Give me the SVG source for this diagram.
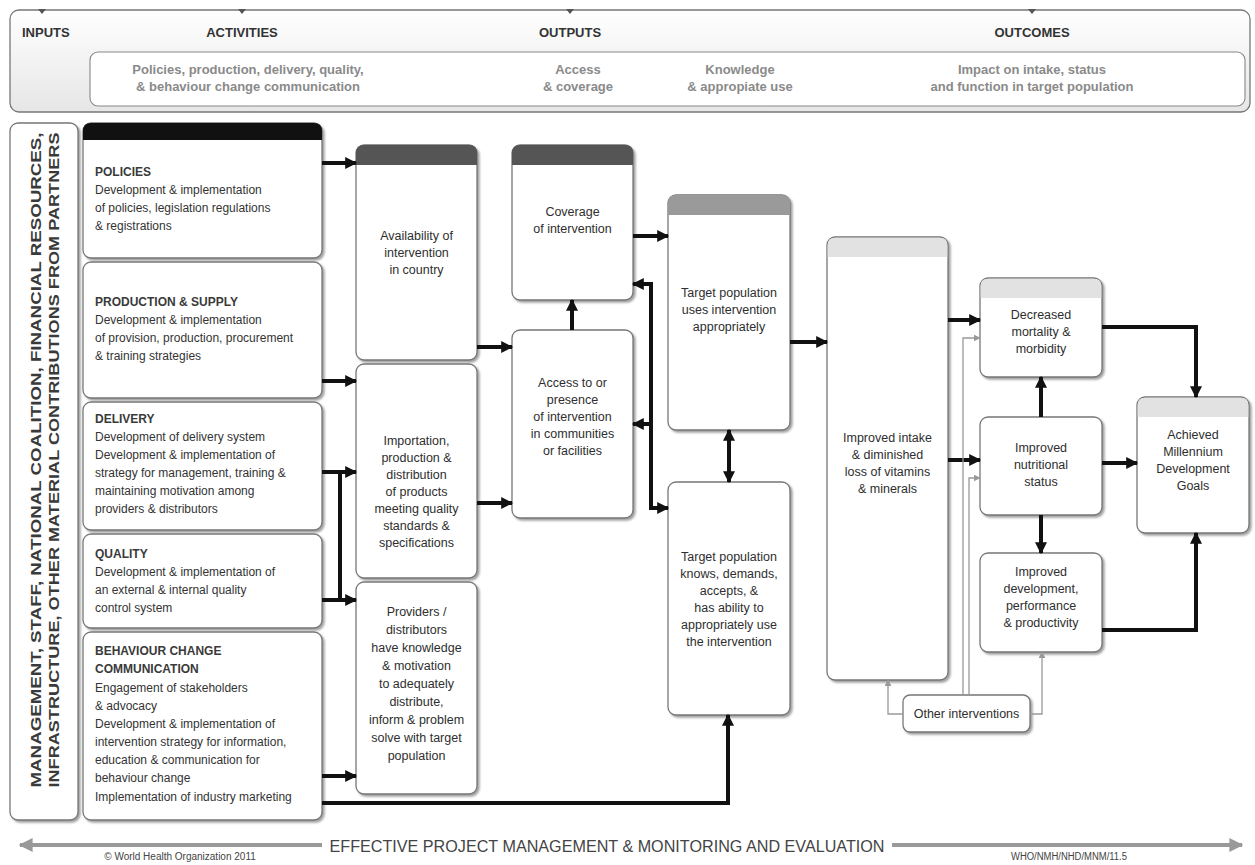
<svg xmlns="http://www.w3.org/2000/svg" width="1255" height="865" viewBox="0 0 1255 865">
<defs>
  <linearGradient id="hdrGrad" x1="0" y1="0" x2="0" y2="1">
    <stop offset="0" stop-color="#ffffff"/>
    <stop offset="1" stop-color="#e6e6e6"/>
  </linearGradient>
  <filter id="sh" x="-10%" y="-10%" width="130%" height="130%">
    <feDropShadow dx="2" dy="2" stdDeviation="1.2" flood-color="#777" flood-opacity="0.7"/>
  </filter>
  <marker id="ah" viewBox="0 0 10 10" refX="9" refY="5" markerWidth="13" markerHeight="12" markerUnits="userSpaceOnUse" orient="auto-start-reverse">
    <path d="M0,0 L10,5 L0,10 z" fill="#111"/>
  </marker>
  <marker id="ag" viewBox="0 0 10 10" refX="9" refY="5" markerWidth="7" markerHeight="7" markerUnits="userSpaceOnUse" orient="auto-start-reverse">
    <path d="M0,0 L10,5 L0,10 z" fill="#999"/>
  </marker>
  <marker id="ab" viewBox="0 0 10 10" refX="9" refY="5" markerWidth="18" markerHeight="14" markerUnits="userSpaceOnUse" orient="auto-start-reverse">
    <path d="M0,0 L10,5 L0,10 z" fill="#999"/>
  </marker>
</defs>
<style>
  .box { fill: #ffffff; stroke: #777; stroke-width: 1.3; }
  .hdr-dark { fill: #555; }
  .hdr-black { fill: #111; }
  .hdr-mid { fill: #9a9a9a; }
  .hdr-light { fill: #e2e2e2; }
  .title { font-family: "Liberation Sans", Arial, sans-serif; font-weight: bold; font-size: 12px; fill: #3a3a3a; }
  .body { font-family: "Liberation Sans", Arial, sans-serif; font-size: 12px; fill: #333; }
  .ctr { font-family: "Liberation Sans", Arial, sans-serif; font-size: 12.5px; fill: #2e2e2e; text-anchor: middle; }
  .phase { font-family: "Liberation Sans", Arial, sans-serif; font-weight: bold; font-size: 13px; fill: #333; }
  .sub { font-family: "Liberation Sans", Arial, sans-serif; font-weight: bold; font-size: 13px; fill: #8a8a8a; text-anchor: middle; }
  .side { font-family: "Liberation Sans", Arial, sans-serif; font-weight: bold; font-size: 15.5px; fill: #3a3a3a; text-anchor: middle; }
  .conn { fill: none; stroke: #111; stroke-width: 4; }
  .thin { fill: none; stroke: #999; stroke-width: 1.3; }
  .small { font-family: "Liberation Sans", Arial, sans-serif; font-size: 10px; fill: #444; }
</style>

<rect width="1255" height="865" fill="#ffffff"/>

<!-- Header band -->
<g id="header">
  <rect x="10" y="10" width="1240" height="102" rx="9" fill="url(#hdrGrad)" stroke="#777" stroke-width="1.3"/>
  <polygon points="38,9 46,9 42,14" fill="#555"/>
  <polygon points="238,9 246,9 242,14" fill="#555"/>
  <polygon points="566,9 574,9 570,14" fill="#555"/>
  <polygon points="1028,9 1036,9 1032,14" fill="#555"/>
  <text class="phase" x="22" y="37">INPUTS</text>
  <text class="phase" x="242" y="37" text-anchor="middle">ACTIVITIES</text>
  <text class="phase" x="570" y="37" text-anchor="middle">OUTPUTS</text>
  <text class="phase" x="1032" y="37" text-anchor="middle">OUTCOMES</text>
  <rect x="90" y="52" width="1155" height="54" rx="8" fill="#ffffff" stroke="#888" stroke-width="1.1"/>
  <text class="sub" x="248" y="74">Policies, production, delivery, quality,</text>
  <text class="sub" x="248" y="91">&amp; behaviour change communication</text>
  <text class="sub" x="578" y="74">Access</text>
  <text class="sub" x="578" y="91">&amp; coverage</text>
  <text class="sub" x="740" y="74">Knowledge</text>
  <text class="sub" x="740" y="91">&amp; appropiate use</text>
  <text class="sub" x="1032" y="74">Impact on intake, status</text>
  <text class="sub" x="1032" y="91">and function in target population</text>
</g>

<!-- Left inputs bar -->
<g id="inputs">
  <rect class="box" x="10" y="123" width="68" height="697" rx="8" filter="url(#sh)"/>
  <text class="side" transform="translate(41,460) rotate(-90)" textLength="655" lengthAdjust="spacingAndGlyphs">MANAGEMENT, STAFF, NATIONAL COALITION, FINANCIAL RESOURCES,</text>
  <text class="side" transform="translate(59,460) rotate(-90)" textLength="655" lengthAdjust="spacingAndGlyphs">INFRASTRUCTURE, OTHER MATERIAL CONTRIBUTIONS FROM PARTNERS</text>
</g>

<!-- Activities -->
<g id="policies">
  <rect class="box" x="83" y="123" width="239" height="135" rx="8" filter="url(#sh)"/>
  <path class="hdr-black" d="M83,140 V131 Q83,123 91,123 H314 Q322,123 322,131 V140 Z"/>
  <text class="title" x="95" y="176">POLICIES</text>
  <text class="body" x="95" y="194">Development &amp; implementation</text>
  <text class="body" x="95" y="212">of policies, legislation regulations</text>
  <text class="body" x="95" y="230">&amp; registrations</text>
</g>
<g id="production">
  <rect class="box" x="83" y="262" width="239" height="136" rx="8" filter="url(#sh)"/>
  <text class="title" x="95" y="306">PRODUCTION &amp; SUPPLY</text>
  <text class="body" x="95" y="324">Development &amp; implementation</text>
  <text class="body" x="95" y="342">of provision, production, procurement</text>
  <text class="body" x="95" y="360">&amp; training strategies</text>
</g>
<g id="delivery">
  <rect class="box" x="83" y="402" width="239" height="128" rx="8" filter="url(#sh)"/>
  <text class="title" x="95" y="423">DELIVERY</text>
  <text class="body" x="95" y="441">Development of delivery system</text>
  <text class="body" x="95" y="459">Development &amp; implementation of</text>
  <text class="body" x="95" y="477">strategy for management, training &amp;</text>
  <text class="body" x="95" y="495">maintaining motivation among</text>
  <text class="body" x="95" y="513">providers &amp; distributors</text>
</g>
<g id="quality">
  <rect class="box" x="83" y="534" width="239" height="94" rx="8" filter="url(#sh)"/>
  <text class="title" x="95" y="558">QUALITY</text>
  <text class="body" x="95" y="576">Development &amp; implementation of</text>
  <text class="body" x="95" y="594">an external &amp; internal quality</text>
  <text class="body" x="95" y="612">control system</text>
</g>
<g id="bcc">
  <rect class="box" x="83" y="632" width="239" height="188" rx="8" filter="url(#sh)"/>
  <text class="title" x="95" y="655">BEHAVIOUR CHANGE</text>
  <text class="title" x="95" y="673">COMMUNICATION</text>
  <text class="body" x="95" y="692">Engagement of stakeholders</text>
  <text class="body" x="95" y="710">&amp; advocacy</text>
  <text class="body" x="95" y="728">Development &amp; implementation of</text>
  <text class="body" x="95" y="746">intervention strategy for information,</text>
  <text class="body" x="95" y="764">education &amp; communication for</text>
  <text class="body" x="95" y="782">behaviour change</text>
  <text class="body" x="95" y="801">Implementation of industry marketing</text>
</g>

<!-- Outputs column 1 -->
<g id="availability">
  <rect class="box" x="356" y="145" width="121" height="215" rx="8" filter="url(#sh)"/>
  <path class="hdr-dark" d="M356,165 V153 Q356,145 364,145 H469 Q477,145 477,153 V165 Z"/>
  <text class="ctr" x="416.5" y="240">Availability of</text>
  <text class="ctr" x="416.5" y="257">intervention</text>
  <text class="ctr" x="416.5" y="274">in country</text>
</g>
<g id="importation">
  <rect class="box" x="356" y="364" width="121" height="214" rx="8" filter="url(#sh)"/>
  <text class="ctr" x="416.5" y="445">Importation,</text>
  <text class="ctr" x="416.5" y="462">production &amp;</text>
  <text class="ctr" x="416.5" y="479">distribution</text>
  <text class="ctr" x="416.5" y="496">of products</text>
  <text class="ctr" x="416.5" y="513">meeting quality</text>
  <text class="ctr" x="416.5" y="530">standards &amp;</text>
  <text class="ctr" x="416.5" y="547">specifications</text>
</g>
<g id="providers">
  <rect class="box" x="356" y="582" width="121" height="212" rx="8" filter="url(#sh)"/>
  <text class="ctr" x="416.5" y="616">Providers /</text>
  <text class="ctr" x="416.5" y="634">distributors</text>
  <text class="ctr" x="416.5" y="652">have knowledge</text>
  <text class="ctr" x="416.5" y="670">&amp; motivation</text>
  <text class="ctr" x="416.5" y="688">to adequately</text>
  <text class="ctr" x="416.5" y="706">distribute,</text>
  <text class="ctr" x="416.5" y="724">inform &amp; problem</text>
  <text class="ctr" x="416.5" y="742">solve with target</text>
  <text class="ctr" x="416.5" y="760">population</text>
</g>

<!-- Outputs column 2 -->
<g id="coverage">
  <rect class="box" x="512" y="145" width="121" height="155" rx="8" filter="url(#sh)"/>
  <path class="hdr-dark" d="M512,165 V153 Q512,145 520,145 H625 Q633,145 633,153 V165 Z"/>
  <text class="ctr" x="572.5" y="216">Coverage</text>
  <text class="ctr" x="572.5" y="233">of intervention</text>
</g>
<g id="access">
  <rect class="box" x="512" y="330" width="121" height="188" rx="8" filter="url(#sh)"/>
  <text class="ctr" x="572.5" y="387">Access to or</text>
  <text class="ctr" x="572.5" y="404">presence</text>
  <text class="ctr" x="572.5" y="421">of intervention</text>
  <text class="ctr" x="572.5" y="438">in communities</text>
  <text class="ctr" x="572.5" y="455">or facilities</text>
</g>

<!-- Outputs column 3 -->
<g id="uses">
  <rect class="box" x="668" y="195" width="122" height="235" rx="8" filter="url(#sh)"/>
  <path class="hdr-mid" d="M668,215 V203 Q668,195 676,195 H782 Q790,195 790,203 V215 Z"/>
  <text class="ctr" x="729" y="297">Target population</text>
  <text class="ctr" x="729" y="314">uses intervention</text>
  <text class="ctr" x="729" y="331">appropriately</text>
</g>
<g id="knows">
  <rect class="box" x="668" y="482" width="122" height="233" rx="8" filter="url(#sh)"/>
  <text class="ctr" x="729" y="561">Target population</text>
  <text class="ctr" x="729" y="578">knows, demands,</text>
  <text class="ctr" x="729" y="595">accepts, &amp;</text>
  <text class="ctr" x="729" y="612">has ability to</text>
  <text class="ctr" x="729" y="629">appropriately use</text>
  <text class="ctr" x="729" y="646">the intervention</text>
</g>

<!-- Outcomes -->
<g id="intake">
  <rect class="box" x="827" y="237" width="121" height="443" rx="8" filter="url(#sh)"/>
  <path class="hdr-light" d="M827.7,257 V245 Q827.7,237.7 835,237.7 H940 Q947.3,237.7 947.3,245 V257 Z"/>
  <text class="ctr" x="887.5" y="442">Improved intake</text>
  <text class="ctr" x="887.5" y="459">&amp; diminished</text>
  <text class="ctr" x="887.5" y="476">loss of vitamins</text>
  <text class="ctr" x="887.5" y="493">&amp; minerals</text>
</g>
<g id="mortality">
  <rect class="box" x="980" y="278" width="122" height="99" rx="8" filter="url(#sh)"/>
  <path class="hdr-light" d="M980.7,298 V286 Q980.7,278.7 988,278.7 H1094 Q1101.3,278.7 1101.3,286 V298 Z"/>
  <text class="ctr" x="1041" y="319">Decreased</text>
  <text class="ctr" x="1041" y="336">mortality &amp;</text>
  <text class="ctr" x="1041" y="353">morbidity</text>
</g>
<g id="nutritional">
  <rect class="box" x="980" y="417" width="122" height="98" rx="8" filter="url(#sh)"/>
  <text class="ctr" x="1041" y="452">Improved</text>
  <text class="ctr" x="1041" y="469">nutritional</text>
  <text class="ctr" x="1041" y="486">status</text>
</g>
<g id="development">
  <rect class="box" x="980" y="553" width="122" height="99" rx="8" filter="url(#sh)"/>
  <text class="ctr" x="1041" y="576">Improved</text>
  <text class="ctr" x="1041" y="593">development,</text>
  <text class="ctr" x="1041" y="610">performance</text>
  <text class="ctr" x="1041" y="627">&amp; productivity</text>
</g>
<g id="mdg">
  <rect class="box" x="1137" y="397" width="112" height="136" rx="8" filter="url(#sh)"/>
  <path class="hdr-light" d="M1137.7,417 V405 Q1137.7,397.7 1145,397.7 H1241 Q1248.3,397.7 1248.3,405 V417 Z"/>
  <text class="ctr" x="1193" y="439">Achieved</text>
  <text class="ctr" x="1193" y="456">Millennium</text>
  <text class="ctr" x="1193" y="473">Development</text>
  <text class="ctr" x="1193" y="490">Goals</text>
</g>
<g id="other">
  <rect class="box" x="903" y="695" width="127" height="37" rx="7" filter="url(#sh)"/>
  <text class="ctr" x="966.5" y="718">Other interventions</text>
</g>

<!-- Connectors -->
<g id="connectors">
  <path class="conn" d="M322,163 H356" marker-end="url(#ah)"/>
  <path class="conn" d="M322,381 H356" marker-end="url(#ah)"/>
  <path class="conn" d="M322,472 H356" marker-end="url(#ah)"/>
  <path class="conn" d="M340,470 V602"/>
  <path class="conn" d="M322,600 H356" marker-end="url(#ah)"/>
  <path class="conn" d="M322,776 H356" marker-end="url(#ah)"/>
  <path class="conn" d="M322,803 H728 V715" marker-end="url(#ah)"/>
  <path class="conn" d="M477,347 H512" marker-end="url(#ah)"/>
  <path class="conn" d="M477,503 H512" marker-end="url(#ah)"/>
  <path class="conn" d="M572,330 V300" marker-end="url(#ah)"/>
  <path class="conn" d="M633,236 H668" marker-end="url(#ah)"/>
  <path class="conn" d="M633,284 H651 V508 H668" marker-start="url(#ah)" marker-end="url(#ah)"/>
  <path class="conn" d="M651,424 H633" marker-end="url(#ah)"/>
  <path class="conn" d="M729,430 V482" marker-start="url(#ah)" marker-end="url(#ah)"/>
  <path class="conn" d="M790,342 H827" marker-end="url(#ah)"/>
  <path class="conn" d="M948,320 H980" marker-end="url(#ah)"/>
  <path class="conn" d="M948,460 H980" marker-end="url(#ah)"/>
  <path class="conn" d="M1041,417 V377" marker-end="url(#ah)"/>
  <path class="conn" d="M1041,515 V553" marker-end="url(#ah)"/>
  <path class="conn" d="M1102,463 H1137" marker-end="url(#ah)"/>
  <path class="conn" d="M1102,327 H1196 V397" marker-end="url(#ah)"/>
  <path class="conn" d="M1102,630 H1196 V533" marker-end="url(#ah)"/>
  <path class="thin" d="M903,714 H888 V680" marker-end="url(#ag)"/>
  <path class="thin" d="M963,695 V338 H980" marker-end="url(#ag)"/>
  <path class="thin" d="M969,695 V478 H980" marker-end="url(#ag)"/>
  <path class="thin" d="M1030,714 H1042 V652" marker-end="url(#ag)"/>
</g>

<!-- Footer -->
<g id="footer">
  <path d="M322,845 H20" stroke="#999" stroke-width="4" fill="none" marker-end="url(#ab)"/>
  <path d="M892,845 H1242" stroke="#999" stroke-width="4" fill="none" marker-end="url(#ab)"/>
  <text x="607" y="852" text-anchor="middle" font-family="'Liberation Sans', Arial, sans-serif" font-size="17" fill="#444" textLength="555" lengthAdjust="spacingAndGlyphs">EFFECTIVE PROJECT MANAGEMENT &amp; MONITORING AND EVALUATION</text>
  <text class="small" x="180" y="860" text-anchor="middle">© World Health Organization 2011</text>
  <text class="small" x="1069" y="860" text-anchor="middle" textLength="116" lengthAdjust="spacingAndGlyphs">WHO/NMH/NHD/MNM/11.5</text>
</g>
</svg>
